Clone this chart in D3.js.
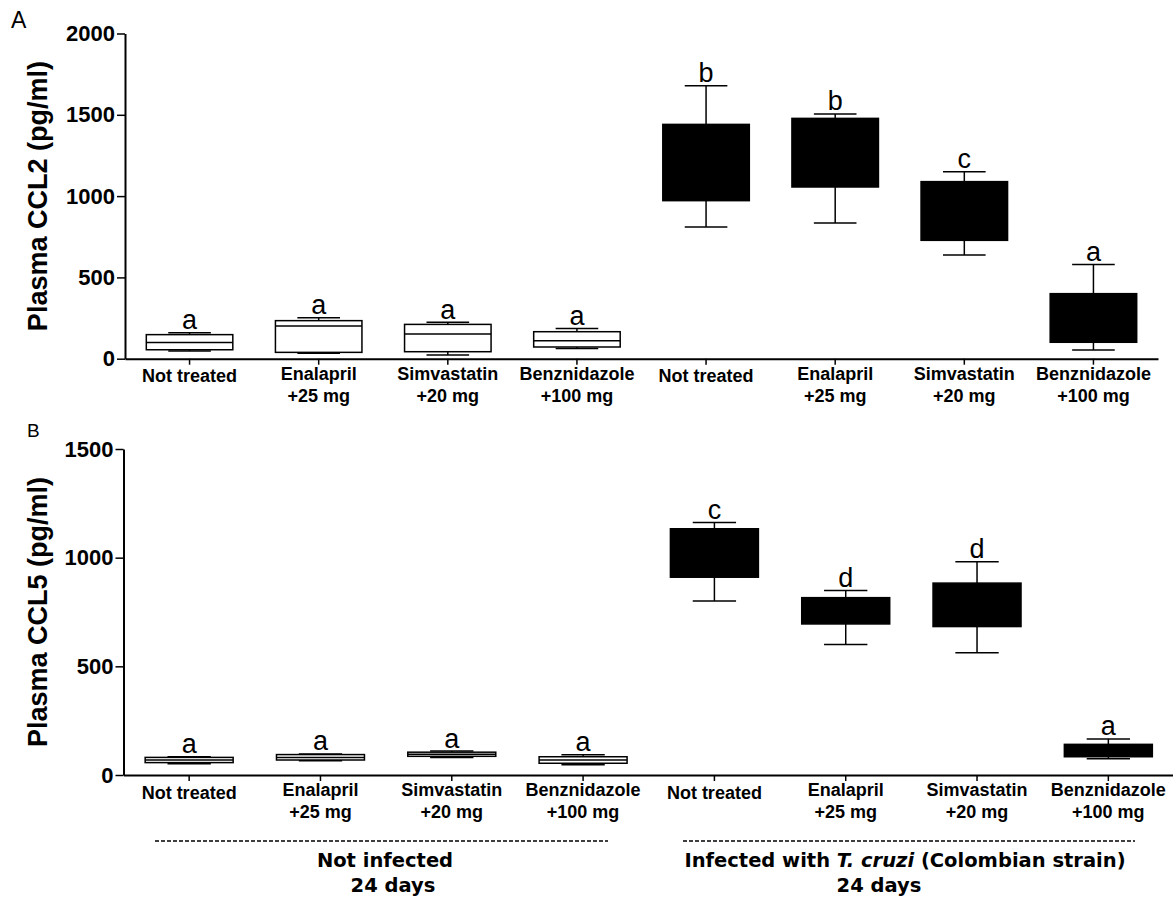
<!DOCTYPE html>
<html><head><meta charset="utf-8">
<script src="https://cdn.jsdelivr.net/npm/d3@7"></script>
<style>body{margin:0;background:#fff} svg{display:block}</style>
</head><body>
<svg id="chart" width="1173" height="900"></svg>
<script>
// ---------- DATA ----------
const categories = ["Not treated","Enalapril","Simvastatin","Benznidazole","Not treated","Enalapril","Simvastatin","Benznidazole"];
const doseLabels = ["","+25 mg","+20 mg","+100 mg","","+25 mg","+20 mg","+100 mg"];
const infected = [false,false,false,false,true,true,true,true];

// Panel A: Plasma CCL2 (pg/ml)
const ccl2Min    = [48, 33, 23, 62, 810, 835, 638, 54];
const ccl2Q1     = [55, 39, 43, 72, 972, 1056, 728, 101];
const ccl2Median = [100, 201, 152, 111, 1200, 1250, 900, 250];
const ccl2Q3     = [148, 234, 211, 166, 1441, 1478, 1089, 400];
const ccl2Max    = [160, 252, 224, 185, 1679, 1505, 1150, 580];
const ccl2Letters = ["a","a","a","a","b","b","c","a"];
const ccl2Ticks = [0, 500, 1000, 1500, 2000];

// Panel B: Plasma CCL5 (pg/ml)
const ccl5Min    = [52, 66, 81, 47, 801, 600, 563, 75];
const ccl5Q1     = [57, 69, 86, 54, 910, 695, 683, 84];
const ccl5Median = [69, 80, 95, 69, 1000, 750, 780, 110];
const ccl5Q3     = [81, 94, 105, 84, 1133, 816, 883, 141];
const ccl5Max    = [84, 97, 110, 93, 1162, 849, 981, 166];
const ccl5Letters = ["a","a","a","a","c","d","d","a"];
const ccl5Ticks = [0, 500, 1000, 1500];

const groupTitles = ["Not infected", "Infected with |T. cruzi| (Colombian strain)"];
const groupSubtitles = ["24 days", "24 days"];

// ---------- DRAWING ----------
const svg = d3.select("#chart");
const FONT = "'Liberation Sans', Arial, Helvetica, sans-serif";

function drawPanel(cfg) {
  const g = svg.append("g");
  const y = d3.scaleLinear().domain([0, cfg.max]).range([cfg.y0, cfg.y1]);
  const x = d3.scaleBand().domain(d3.range(categories.length)).range([cfg.x0, cfg.x1]).padding(0);
  const bw = x.bandwidth();
  const boxW = bw * 0.67, capW = bw * 0.33;
  const cx = i => x(i) + bw / 2;

  // Y axis
  const ya = g.append("g").attr("transform", `translate(${cfg.x0},0)`)
    .call(d3.axisLeft(y).tickValues(cfg.ticks).tickSize(8).tickSizeOuter(0).tickPadding(2).tickFormat(d3.format("d")));
  ya.select(".domain").attr("stroke", "#000").attr("stroke-width", 2);
  ya.selectAll(".tick line").attr("stroke", "#000").attr("stroke-width", 1.5);
  ya.selectAll(".tick text").attr("font-family", FONT).attr("font-weight", "bold")
    .attr("font-size", 22).attr("fill", "#000");

  // X axis
  const xa = g.append("g").attr("transform", `translate(0,${cfg.y0})`)
    .call(d3.axisBottom(x).tickSize(6).tickSizeOuter(0).tickFormat(""));
  xa.select(".domain").attr("stroke", "#000").attr("stroke-width", 2);
  xa.selectAll(".tick line").attr("stroke", "#000").attr("stroke-width", 1.5);

  // Category labels
  categories.forEach((c, i) => {
    const t = g.append("text").attr("x", cx(i)).attr("text-anchor", "middle")
      .attr("font-family", FONT).attr("font-weight", "bold").attr("font-size", 18).attr("fill", "#000");
    if (doseLabels[i]) {
      t.attr("y", cfg.y0 + 21).text(c);
      g.append("text").attr("x", cx(i)).attr("y", cfg.y0 + 43).attr("text-anchor", "middle")
        .attr("font-family", FONT).attr("font-weight", "bold").attr("font-size", 18).attr("fill", "#000")
        .text(doseLabels[i]);
    } else {
      t.attr("y", cfg.y0 + 23.5).text(c);
    }
  });

  // Boxes
  categories.forEach((c, i) => {
    const fill = infected[i] ? "#000" : "#fff";
    const bg = g.append("g");
    bg.append("line").attr("x1", cx(i)).attr("x2", cx(i)).attr("y1", y(cfg.max_[i])).attr("y2", y(cfg.q3[i]))
      .attr("stroke", "#000").attr("stroke-width", 1.5);
    bg.append("line").attr("x1", cx(i)).attr("x2", cx(i)).attr("y1", y(cfg.q1[i])).attr("y2", y(cfg.min[i]))
      .attr("stroke", "#000").attr("stroke-width", 1.5);
    [cfg.max_[i], cfg.min[i]].forEach(v => {
      bg.append("line").attr("x1", cx(i) - capW / 2).attr("x2", cx(i) + capW / 2)
        .attr("y1", y(v)).attr("y2", y(v)).attr("stroke", "#000").attr("stroke-width", 1.5);
    });
    bg.append("rect").attr("x", cx(i) - boxW / 2).attr("width", boxW)
      .attr("y", y(cfg.q3[i])).attr("height", y(cfg.q1[i]) - y(cfg.q3[i]))
      .attr("fill", fill).attr("stroke", "#000").attr("stroke-width", 1.5);
    bg.append("line").attr("x1", cx(i) - boxW / 2).attr("x2", cx(i) + boxW / 2)
      .attr("y1", y(cfg.median[i])).attr("y2", y(cfg.median[i]))
      .attr("stroke", "#000").attr("stroke-width", 1.5);
    g.append("text").attr("x", cx(i)).attr("y", y(cfg.max_[i]) - 3.5).attr("text-anchor", "middle")
      .attr("font-family", FONT).attr("font-size", 27).attr("fill", "#000").text(cfg.letters[i]);
  });

  // Y axis title
  g.append("text").attr("transform", `translate(47,${(cfg.y0 + cfg.y1) / 2}) rotate(-90)`)
    .attr("text-anchor", "middle").attr("font-family", FONT).attr("font-weight", "bold")
    .attr("font-size", 27).attr("fill", "#000").text(cfg.title);

  // Panel letter
  g.append("text").attr("x", cfg.letterX).attr("y", cfg.letterY)
    .attr("font-family", FONT).attr("font-size", cfg.letterSize).attr("fill", "#000").text(cfg.panel);
}

drawPanel({
  panel: "A", letterX: 11, letterY: 28, letterSize: 23,
  title: "Plasma CCL2 (pg/ml)", max: 2000, ticks: ccl2Ticks,
  y0: 358.7, y1: 33.5, x0: 125, x1: 1158,
  min: ccl2Min, q1: ccl2Q1, median: ccl2Median, q3: ccl2Q3, max_: ccl2Max, letters: ccl2Letters
});

drawPanel({
  panel: "B", letterX: 27, letterY: 437, letterSize: 19,
  title: "Plasma CCL5 (pg/ml)", max: 1500, ticks: ccl5Ticks,
  y0: 775, y1: 449, x0: 123.5, x1: 1174,
  min: ccl5Min, q1: ccl5Q1, median: ccl5Median, q3: ccl5Q3, max_: ccl5Max, letters: ccl5Letters
});

// Group annotations below panel B
const groupSpans = [[155, 608], [683, 1135]];
const titleCenters = [385, 905];
const subCenters = [393, 879];
const GFONT = "'DejaVu Sans', Verdana, sans-serif";
groupSpans.forEach((s, k) => {
  svg.append("line").attr("x1", s[0]).attr("x2", s[1]).attr("y1", 841).attr("y2", 841)
    .attr("stroke", "#000").attr("stroke-width", 1.5).attr("stroke-dasharray", "4,2");
  const t = svg.append("text").attr("x", titleCenters[k]).attr("y", 866.5).attr("text-anchor", "middle")
    .attr("font-family", GFONT).attr("font-weight", "bold").attr("font-size", 19.5).attr("fill", "#000");
  groupTitles[k].split("|").forEach((part, j) => {
    t.append("tspan").attr("font-style", j === 1 ? "italic" : "normal").text(part);
  });
  svg.append("text").attr("x", subCenters[k]).attr("y", 892).attr("text-anchor", "middle")
    .attr("font-family", GFONT).attr("font-weight", "bold").attr("font-size", 19.5).attr("fill", "#000")
    .text(groupSubtitles[k]);
});
</script>
</body></html>
